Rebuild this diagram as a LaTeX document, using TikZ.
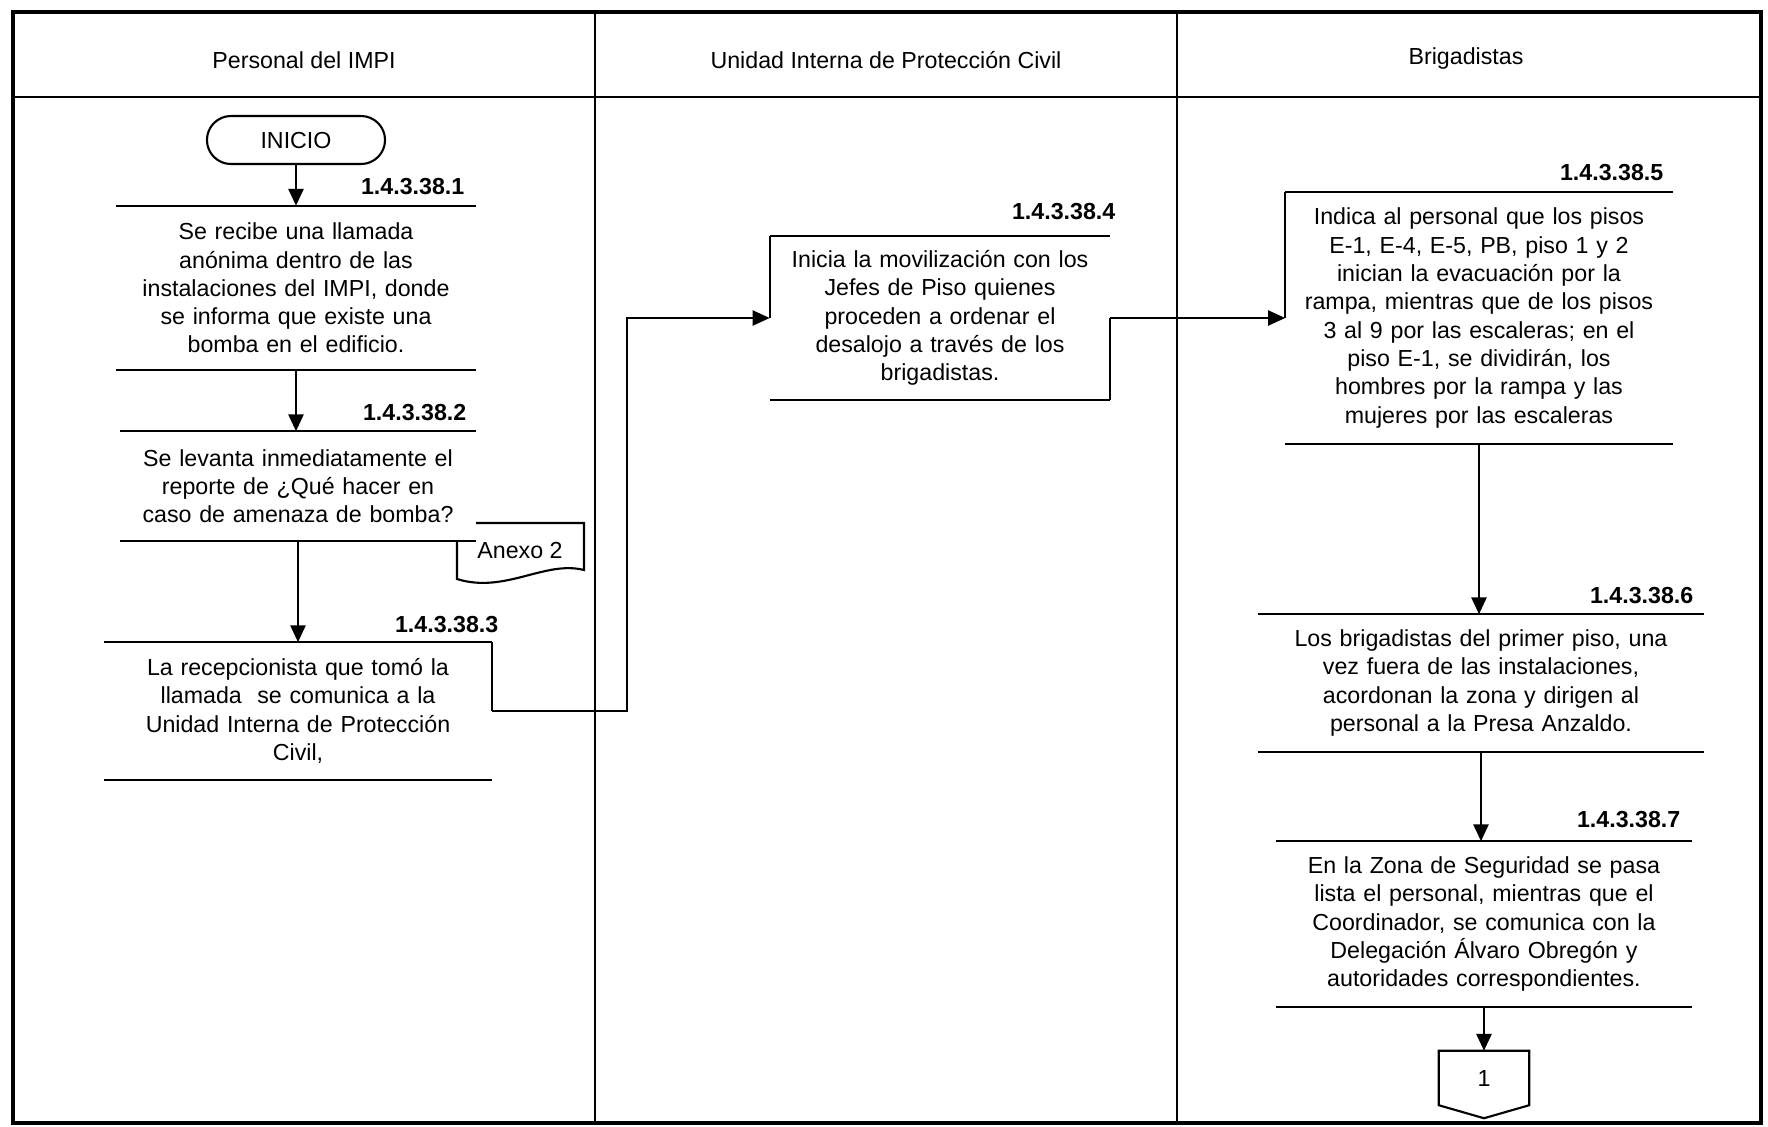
\documentclass[tikz,border=0pt]{standalone}
\usepackage{fontspec}
\setmainfont{Liberation Sans}
\usetikzlibrary{arrows.meta,positioning,calc}

\tikzset{
  texto/.style={font=\fontsize{6.6}{8.05}\selectfont},
  linea/.style={line width=0.6pt},
  paso/.style={texto, fill=white, align=center, inner xsep=0pt, inner ysep=0pt,
    append after command={(\tikzlastnode.north west) edge[linea] (\tikzlastnode.north east)
                          (\tikzlastnode.south west) edge[linea] (\tikzlastnode.south east)}},
  clave/.style={font=\fontsize{6.6}{8}\selectfont\bfseries, anchor=east, inner sep=0pt},
  flecha/.style={line width=0.8pt, -{Triangle[length=1.7mm,width=1.5mm]}},
  conector/.style={line width=0.6pt, -{Triangle[length=1.7mm,width=1.5mm]}},
}

\begin{document}
\begin{tikzpicture}[x=0.01cm, y=-0.01cm]
    \useasboundingbox (0,0) rectangle (1768,1126);

    % marco y carriles
    \draw[line width=1.1pt] (13,12) rectangle (1761,1123);
    \draw[line width=0.8pt] (13,97) -- (1761,97);
    \draw[line width=0.7pt] (595,12) -- (595,1123) (1177,12) -- (1177,1123);

    \node[texto] (h1) at (304,60) {Personal del IMPI};
    \node[texto] (h2) at (886,60) {Unidad Interna de Protección Civil};
    \node[texto] (h3) at (1466,58) {Brigadistas};

    % Personal del IMPI
    \node[texto, draw, linea, rounded corners=0.24cm, minimum width=1.78cm, minimum height=0.48cm] (inicio) at (296,140) {INICIO};

    \node[paso, text width=3.58cm, minimum height=1.63cm] (b1) at (296,288)
        {Se recibe una llamada\\anónima dentro de las\\instalaciones del IMPI, donde\\se informa que existe una\\bomba en el edificio.};

    \draw[linea] (457,523) -- (584,523) -- (584,570) .. controls (545,560) and (505,594) .. (457,579) -- cycle;
    \node[texto, inner sep=0pt] (anexo) at (520,550) {Anexo 2};

    \node[paso, text width=3.55cm, minimum height=1.08cm] (b2) at (298,486)
        {Se levanta inmediatamente el\\reporte de ¿Qué hacer en\\caso de amenaza de bomba?};

    \node[paso, text width=3.87cm, minimum height=1.36cm] (b3) at (298,711)
        {La recepcionista que tomó la\\llamada\ \ se comunica a la\\Unidad Interna de Protección\\Civil,};

    % Unidad Interna de Proteccion Civil
    \node[paso, text width=3.39cm, minimum height=1.63cm] (b4) at (940,318)
        {Inicia la movilización con los\\Jefes de Piso quienes\\proceden a ordenar el\\desalojo a través de los\\brigadistas.};

    % Brigadistas
    \node[paso, text width=3.86cm, minimum height=2.50cm] (b5) at (1479,318)
        {Indica al personal que los pisos\\E-1, E-4, E-5, PB, piso 1 y 2\\inician la evacuación por la\\rampa, mientras que de los pisos\\3 al 9 por las escaleras; en el\\piso E-1, se dividirán, los\\hombres por la rampa y las\\mujeres por las escaleras};

    \node[paso, text width=4.45cm, minimum height=1.36cm] (b6) at (1481,683)
        {Los brigadistas del primer piso, una\\vez fuera de las instalaciones,\\acordonan la zona y dirigen al\\personal a la Presa Anzaldo.};

    \node[paso, text width=4.14cm, minimum height=1.64cm] (b7) at (1484,924)
        {En la Zona de Seguridad se pasa\\lista el personal, mientras que el\\Coordinador, se comunica con la\\Delegación Álvaro Obregón y\\autoridades correspondientes.};

    \node[texto, inner sep=0pt, minimum width=0.89cm, minimum height=0.53cm] (fin) at (1484,1078) {1};
    \draw[linea] (fin.north west) -- (fin.north east) -- (fin.south east) -- ($(fin.south)+(0,13)$) -- (fin.south west) -- cycle;

    % claves
    \node[clave] (n1) at (465,187) {1.4.3.38.1};
    \node[clave] (n2) at (467,413) {1.4.3.38.2};
    \node[clave] (n3) at (499,625) {1.4.3.38.3};
    \node[clave] (n4) at (1116,212) {1.4.3.38.4};
    \node[clave] (n5) at (1664,173) {1.4.3.38.5};
    \node[clave] (n6) at (1694,596) {1.4.3.38.6};
    \node[clave] (n7) at (1681,820) {1.4.3.38.7};

    % flujo
    \draw[flecha] (inicio.south) -- (inicio.south |- b1.north);
    \draw[flecha] (b1.south) -- (b1.south |- b2.north);
    \draw[flecha] (b2.south) -- (b2.south |- b3.north);
    \draw[conector] (b3.east) -- ++(135,0) |- (b4.west);
    \draw[conector] (b4.east) -- (b5.west);
    \draw[flecha] (b5.south) -- (b5.south |- b6.north);
    \draw[flecha] (b6.south) -- (b6.south |- b7.north);
    \draw[flecha] (b7.south) -- (fin.north);

    \draw[linea] (b3.north east) -- (b3.east) (b4.north west) -- (b4.west)
                 (b4.east) -- (b4.south east) (b5.north west) -- (b5.west);
\end{tikzpicture}
\end{document}
